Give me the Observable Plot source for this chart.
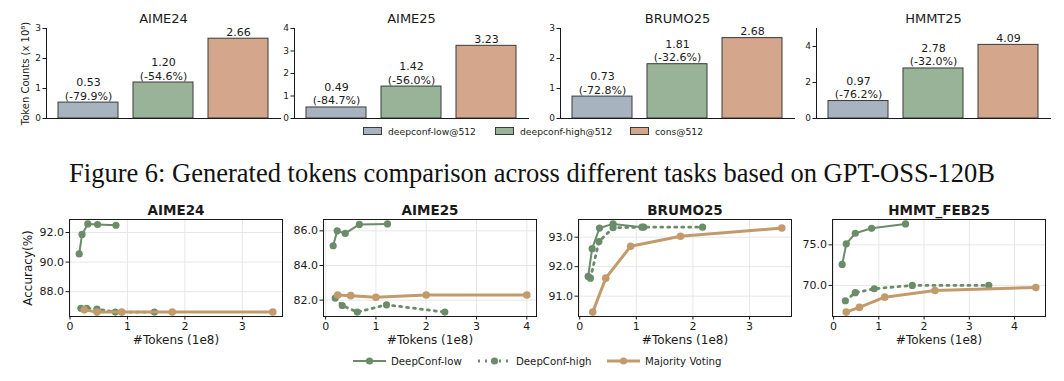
<!DOCTYPE html>
<html><head><meta charset="utf-8">
<script src="https://cdn.jsdelivr.net/npm/d3@7"></script>
<script src="https://cdn.jsdelivr.net/npm/@observablehq/plot@0.6"></script>
<style>
body{margin:0;background:#fff;}
#root{position:relative;width:1064px;height:381px;overflow:hidden;font-family:"DejaVu Sans",sans-serif;color:#1a1a1a;background:#fff;}
.panel{position:absolute;}
.caption{position:absolute;left:0;width:1064px;text-align:center;font-family:"Liberation Serif","Times New Roman",serif;font-size:26.5px;line-height:30px;top:158px;color:#111;}
.leg{position:absolute;display:flex;align-items:center;white-space:nowrap;}
</style></head><body><div id="root"></div><script>
// ---------- data: top row (token counts, x 10^8) ----------
const barTasks = ["AIME24", "AIME25", "BRUMO25", "HMMT25"];
const barMethods = ["deepconf-low@512", "deepconf-high@512", "cons@512"];
const lowTokens = [0.53, 0.49, 0.73, 0.97];
const highTokens = [1.20, 1.42, 1.81, 2.78];
const consTokens = [2.66, 3.23, 2.68, 4.09];
const lowReduction = ["-79.9%", "-84.7%", "-72.8%", "-76.2%"];
const highReduction = ["-54.6%", "-56.0%", "-32.6%", "-32.0%"];
const barYMax = [3, 4, 3, 5];
const barYTicks = [[0, 1, 2, 3], [0, 1, 2, 3, 4], [0, 1, 2, 3], [0, 2, 4]];
const barYLabel = "Token Counts (x 10\u2078)";
const caption = "Figure 6: Generated tokens comparison across different tasks based on GPT-OSS-120B";

// ---------- data: bottom row (accuracy vs tokens, 1e8) ----------
const lineTasks = ["AIME24", "AIME25", "BRUMO25", "HMMT_FEB25"];
const seriesNames = ["DeepConf-low", "DeepConf-high", "Majority Voting"];
const lowX = [[0.16, 0.21, 0.31, 0.48, 0.80], [0.15, 0.23, 0.39, 0.67, 1.23], [0.15, 0.22, 0.35, 0.59, 1.10], [0.19, 0.28, 0.48, 0.84, 1.59]];
const lowY = [[90.55, 91.87, 92.58, 92.54, 92.49], [85.14, 86.00, 85.85, 86.37, 86.40], [91.67, 92.61, 93.31, 93.45, 93.34], [72.58, 75.12, 76.43, 77.04, 77.58]];
const highX = [[0.19, 0.29, 0.47, 0.79, 1.47], [0.19, 0.33, 0.63, 1.21, 2.37], [0.19, 0.34, 0.59, 1.13, 2.17], [0.26, 0.48, 0.90, 1.74, 3.43]];
const highY = [[86.88, 86.88, 86.83, 86.62, 86.62], [82.12, 81.69, 81.31, 81.73, 81.31], [91.61, 92.85, 93.32, 93.34, 93.34], [68.11, 69.10, 69.59, 70.00, 70.00]];
const mvX = [[0.25, 0.47, 0.90, 1.78, 3.53], [0.24, 0.50, 1.00, 2.00, 4.00], [0.23, 0.46, 0.90, 1.78, 3.57], [0.28, 0.57, 1.13, 2.24, 4.47]];
const mvY = [[86.77, 86.62, 86.62, 86.63, 86.63], [82.30, 82.26, 82.17, 82.30, 82.30], [90.46, 91.61, 92.69, 93.03, 93.31], [66.71, 67.29, 68.55, 69.38, 69.75]];
const lineXTicks = [[0, 1, 2, 3], [0, 1, 2, 3, 4], [0, 1, 2, 3], [0, 1, 2, 3, 4]];
const lineYTicks = [[88, 90, 92], [82, 84, 86], [91, 92, 93], [70, 75]];
const xLabel = "#Tokens (1e8)";
const yLabel = "Accuracy(%)";

// ---------- styles ----------
const barColors = ["#a8b3c0", "#98b398", "#d4a68c"];
const green = "#6a8c69", tan = "#c39a6b";
const ink = "#1a1a1a";
const dotted = "2,5";

const root = document.getElementById("root");
function place(el, left, top) {
  const d = document.createElement("div");
  d.className = "panel"; d.style.left = left + "px"; d.style.top = top + "px";
  d.appendChild(el); root.appendChild(d);
}
const baseStyle = {background: "none", overflow: "visible", fontFamily: "DejaVu Sans", color: ink};
const intFmt = d3.format("d");

// ---------- top row ----------
const barLeft = [46, 294, 560, 816];
const BW = 234, BH = 90, BML = 40, BMR = 10, BMT = 28, BMB = 22;
barTasks.forEach((task, i) => {
  const vals = [lowTokens[i], highTokens[i], consTokens[i]];
  const reds = [lowReduction[i], highReduction[i], null];
  const rows = barMethods.map((m, j) => ({
    method: m, value: vals[j],
    label: reds[j] ? `${vals[j].toFixed(2)}\n(${reds[j]})` : vals[j].toFixed(2)
  }));
  const chart = Plot.plot({
    width: BW + BML + BMR, height: BMT + BH + BMB,
    marginLeft: BML, marginRight: BMR, marginTop: BMT, marginBottom: BMB,
    style: baseStyle,
    x: {domain: barMethods, paddingInner: 0.2, paddingOuter: 0.14, axis: null},
    y: {domain: [0, barYMax[i]], axis: null},
    color: {domain: barMethods, range: barColors},
    marks: [
      Plot.barY(rows, {x: "method", y: "value", fill: "method", stroke: "#3a3a3a", strokeWidth: 1}),
      Plot.frame({anchor: "left", stroke: ink}),
      Plot.frame({anchor: "bottom", stroke: ink}),
      Plot.axisY({ticks: barYTicks[i], tickSize: 3.5, tickPadding: 2, fontSize: 9, tickFormat: intFmt, label: null}),
      Plot.text(rows, {x: "method", y: "value", text: "label", lineAnchor: "bottom", dy: -3, fontSize: 11, lineHeight: 1.2}),
      Plot.text([task], {frameAnchor: "top", lineAnchor: "middle", dy: -10, fontSize: 13}),
      i === 0 ? Plot.text([barYLabel], {frameAnchor: "left", textAnchor: "middle", lineAnchor: "middle", rotate: -90, dx: -21, fontSize: 10}) : null
    ]
  });
  place(chart, barLeft[i] - BML, 0);
});

// top legend
const topLegX = [363, 495, 630];
barMethods.forEach((m, j) => {
  const d = document.createElement("div");
  d.className = "leg";
  d.style.left = topLegX[j] + "px"; d.style.top = "124px"; d.style.height = "14px";
  d.innerHTML = `<span style="display:inline-block;width:17px;height:6px;background:${barColors[j]};border:1px solid #3a3a3a;margin-right:6px"></span><span style="font-size:9.2px">${m}</span>`;
  root.appendChild(d);
});

// caption
const cap = document.createElement("div");
cap.className = "caption"; cap.textContent = caption; root.appendChild(cap);

// ---------- bottom row ----------
const lineLeft = [69, 323, 578, 832];
const LW = 213, LH = 97, LML = 45, LMR = 8, LMT = 28, LMB = 32, lineTop = 219;
function padDomain(vals) { const [a, b] = d3.extent(vals); const m = (b - a) * 0.05; return [a - m, b + m]; }
const toRows = (xs, ys) => xs.map((x, k) => ({x, y: ys[k]}));
lineTasks.forEach((task, i) => {
  const low = toRows(lowX[i], lowY[i]);
  const high = toRows(highX[i], highY[i]);
  const mv = toRows(mvX[i], mvY[i]);
  const xdom = padDomain([...lowX[i], ...highX[i], ...mvX[i]]);
  const ydom = padDomain([...lowY[i], ...highY[i], ...mvY[i]]);
  const chart = Plot.plot({
    width: LW + LML + LMR, height: LMT + LH + LMB,
    marginLeft: LML, marginRight: LMR, marginTop: LMT, marginBottom: LMB,
    style: baseStyle,
    x: {domain: xdom, axis: null},
    y: {domain: ydom, axis: null},
    marks: [
      Plot.gridX({ticks: lineXTicks[i], stroke: "#e4e4e4", strokeOpacity: 1, strokeWidth: 0.9}),
      Plot.gridY({ticks: lineYTicks[i], stroke: "#e4e4e4", strokeOpacity: 1, strokeWidth: 0.9}),
      Plot.line(low, {x: "x", y: "y", stroke: green, strokeWidth: 2}),
      Plot.dot(low, {x: "x", y: "y", fill: green, r: 3.6}),
      Plot.line(high, {x: "x", y: "y", stroke: green, strokeWidth: 2.8, strokeDasharray: dotted}),
      Plot.dot(high, {x: "x", y: "y", fill: green, r: 3.6}),
      Plot.line(mv, {x: "x", y: "y", stroke: tan, strokeWidth: 3}),
      Plot.dot(mv, {x: "x", y: "y", fill: tan, r: 3.8}),
      Plot.frame({stroke: ink}),
      Plot.axisX({ticks: lineXTicks[i], tickSize: 3.5, tickPadding: 2, fontSize: 11, tickFormat: intFmt, label: null}),
      Plot.axisY({ticks: lineYTicks[i], tickSize: 3.5, tickPadding: 2, fontSize: 11, tickFormat: d3.format(".1f"), label: null}),
      Plot.text([xLabel], {frameAnchor: "bottom", lineAnchor: "middle", dy: 24, fontSize: 12}),
      Plot.text([task], {frameAnchor: "top", lineAnchor: "middle", dy: -9, fontWeight: "bold", fontSize: 13.5}),
      i === 0 ? Plot.text([yLabel], {frameAnchor: "left", textAnchor: "middle", lineAnchor: "middle", rotate: -90, dx: -41, fontSize: 12}) : null
    ]
  });
  place(chart, lineLeft[i] - LML, lineTop - LMT);
});

// bottom legend
const botLegX = [353, 478, 607];
const legStyles = [
  {color: green, w: 2, dash: ""},
  {color: green, w: 2.8, dash: dotted},
  {color: tan, w: 3, dash: ""}
];
seriesNames.forEach((name, j) => {
  const s = legStyles[j];
  const d = document.createElement("div");
  d.className = "leg";
  d.style.left = botLegX[j] + "px"; d.style.top = "354px"; d.style.height = "14px";
  d.innerHTML = `<svg width="33" height="10" style="margin-right:5px;overflow:visible"><line x1="0" x2="33" y1="5" y2="5" stroke="${s.color}" stroke-width="${s.w}" ${s.dash ? `stroke-dasharray="${s.dash}"` : ""}/><circle cx="16.5" cy="5" r="3.6" fill="${s.color}"/></svg><span style="font-size:10.2px">${name}</span>`;
  root.appendChild(d);
});
</script></body></html>
